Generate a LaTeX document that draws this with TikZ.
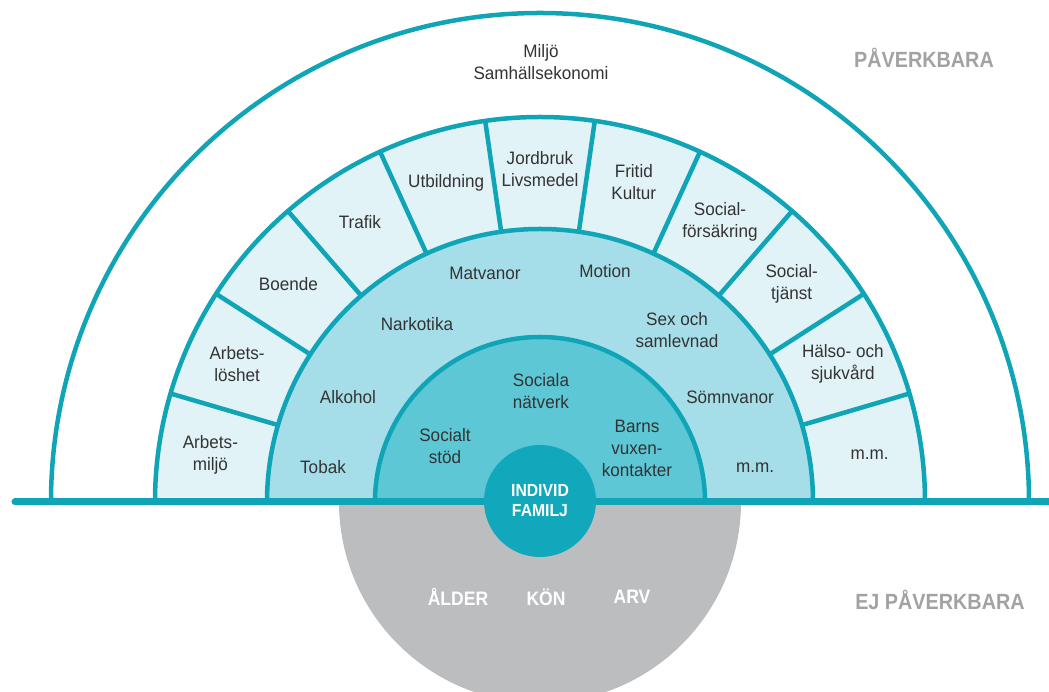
\documentclass[tikz,border=0pt]{standalone}
\usepackage{fontspec}
\setmainfont{Liberation Sans}[FakeStretch=0.95]
\newfontfamily\boldcond[FakeStretch=0.9]{Liberation Sans Bold}
\definecolor{tealline}{HTML}{0FA4B6}
\definecolor{ringlight}{HTML}{E1F3F7}
\definecolor{ringmid}{HTML}{A5DEE9}
\definecolor{ringinner}{HTML}{5DC7D5}
\definecolor{corefill}{HTML}{12A8BB}
\definecolor{fixedgray}{HTML}{BCBDBF}
\definecolor{labeltext}{HTML}{333333}
\definecolor{sidetext}{HTML}{A2A2A2}
\tikzset{
  ring/.style={draw=tealline, line width=4.5},
  lbl/.style={text=labeltext, align=center, font=\fontsize{18}{22}\selectfont, inner sep=0},
  whitelbl/.style={text=white, align=center, font=\boldcond\fontsize{17.5}{20}\selectfont, inner sep=0},
  fixedlbl/.style={whitelbl, font=\boldcond\fontsize{19.5}{20}\selectfont},
  sidelbl/.style={text=sidetext, font=\boldcond\fontsize{22}{24}\selectfont, inner sep=0}
}
\begin{document}
\begin{tikzpicture}[x=1pt,y=1pt]
	\useasboundingbox (-540,-190) rectangle (509,502);
	% the part that cannot be changed
	\begin{scope}
		\clip (-540,-190) rectangle (509,0);
		\fill[fixedgray] (0,0) circle[radius=201pt];
	\end{scope}
	% rings
	\draw[ring] (-489,0) arc[start angle=180, end angle=0, radius=489pt];
	\fill[ringlight] (-385,0) arc[start angle=180, end angle=0, radius=385pt] -- cycle;
	\fill[ringmid] (-273,0) arc[start angle=180, end angle=0, radius=273pt] -- cycle;
	\fill[ringinner] (-165,0) arc[start angle=180, end angle=0, radius=165pt] -- cycle;
	\draw[ring] (-385,0) arc[start angle=180, end angle=0, radius=385pt];
	\draw[ring] (-273,0) arc[start angle=180, end angle=0, radius=273pt];
	\draw[ring] (-165,0) arc[start angle=180, end angle=0, radius=165pt];
	\foreach \k in {1,...,10}
		\draw[ring] ({180-\k*180/11}:273) -- ({180-\k*180/11}:385);
	\draw[draw=tealline, line width=7, line cap=round] (-525,0) -- (520,0);
	\fill[corefill] (0,1) circle[radius=56pt];
	% outer segments
	\foreach \txt [count=\i] in {Arbets-\\miljö, Arbets-\\löshet, Boende, Trafik, Utbildning,
		Jordbruk\\Livsmedel, Fritid\\Kultur, Social-\\försäkring, Social-\\tjänst, Hälso- och\\sjukvård, m.m.}
		\node[lbl] (seg\i) at ({180-(\i-0.5)*180/11}:333) {\txt};
	\node[lbl] (miljo) at (1,440) {Miljö\\Samhällsekonomi};
	% middle band
	\node[lbl] (tobak) at (-217,35) {Tobak};
	\node[lbl] (alkohol) at (-192,105) {Alkohol};
	\node[lbl] (narkotika) at (-123,178) {Narkotika};
	\node[lbl] (matvanor) at (-55,229) {Matvanor};
	\node[lbl] (motion) at (65,231) {Motion};
	\node[lbl] (sex) at (137,172) {Sex och\\samlevnad};
	\node[lbl] (somn) at (190,105) {Sömnvanor};
	\node[lbl] (mm) at (215,34) {m.m.};
	% inner band
	\node[lbl] (stod) at (-95,56) {Socialt\\stöd};
	\node[lbl] (natverk) at (1,111) {Sociala\\nätverk};
	\node[lbl] (barns) at (97,54) {Barns\\vuxen-\\kontakter};
	% centre and fixed factors
	\node[whitelbl] (individ) at (0,1) {INDIVID\\FAMILJ};
	\node[fixedlbl] (alder) at (-82,-95) {ÅLDER};
	\node[fixedlbl] (kon) at (6,-95) {KÖN};
	\node[fixedlbl] (arv) at (92,-95) {ARV};
	\node[sidelbl] (paverk) at (384,444) {PÅVERKBARA};
	\node[sidelbl] (ejpaverk) at (400,-98) {EJ PÅVERKBARA};
\end{tikzpicture}
\end{document}
